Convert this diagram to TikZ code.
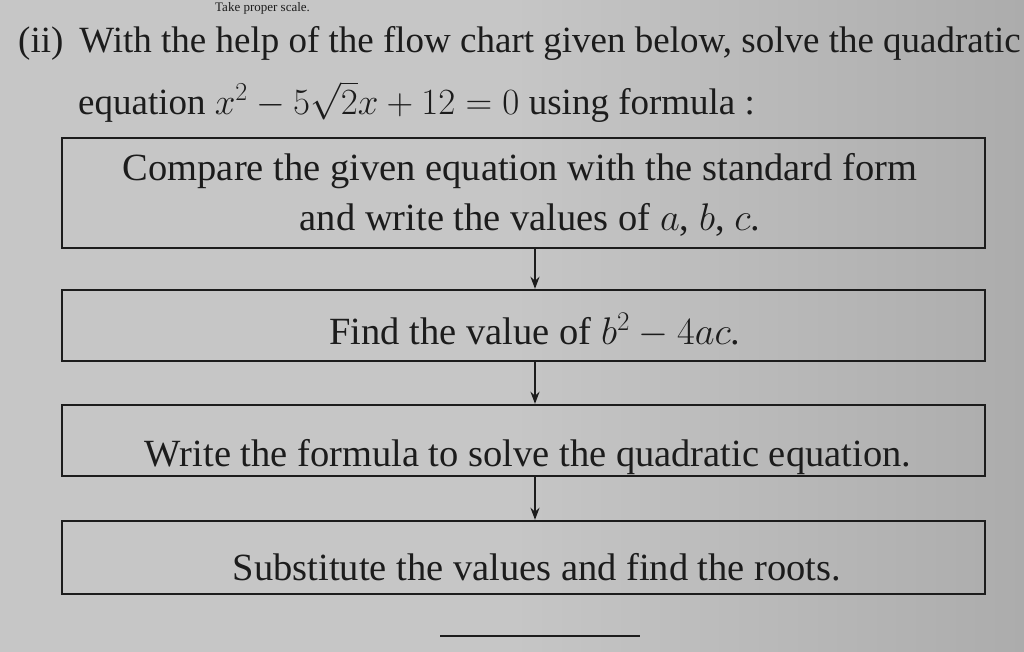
\documentclass[tikz,border=0pt]{standalone}
\usepackage{fix-cm}
\usepackage{fontspec}
\setmainfont{Liberation Serif}
\usetikzlibrary{arrows.meta}
\definecolor{paper}{RGB}{198,198,198}
\definecolor{paperdark}{RGB}{172,172,172}
\definecolor{ink}{RGB}{28,28,28}
\tikzset{
  flowbox/.style={draw=ink, line width=2.4pt, minimum width=923pt, inner sep=0pt},
  boxtext/.style={text=ink, font=\fontsize{38.5}{46}\selectfont, inner sep=0pt, anchor=base},
  headtext/.style={text=ink, font=\fontsize{37}{44}\selectfont, inner sep=0pt, anchor=base west},
  flowarrow/.style={draw=ink, line width=1.8pt, -{Stealth[length=12pt,width=9pt]}},
}
\begin{document}
\begin{tikzpicture}[x=1pt,y=-1pt]
\useasboundingbox (0,0) rectangle (1024,651);
\clip (0,0) rectangle (1024,651);
\shade[left color=paper, right color=paperdark, middle color=paper] (0,0) rectangle (1024,651);
% heading
\node[text=ink, font=\fontsize{13}{15}\selectfont, inner sep=0pt, anchor=base west] (take) at (215,11) {Take proper scale.};
\node[headtext] (q1) at (18,52) {(ii)\hspace{16pt}With the help of the flow chart given below, solve the quadratic};
\node[headtext] (q2) at (78,114) {equation $x^2-5\sqrt{2}x+12=0$ using formula :};
% boxes
\node[flowbox, minimum height=110pt] (b1) at (523.5,193) {};
\node[flowbox, minimum height=71pt] (b2) at (523.5,325.5) {};
\node[flowbox, minimum height=71pt] (b3) at (523.5,440.5) {};
\node[flowbox, minimum height=73pt] (b4) at (523.5,557.5) {};
% texts
\node[boxtext] (t1a) at (520,180) {Compare the given equation with the standard form};
\node[boxtext] (t1b) at (530,230) {and write the values of $a$, $b$, $c$.};
\node[boxtext] (t2) at (535,344) {Find the value of $b^2-4ac$.};
\node[boxtext] (t3) at (528,466) {Write the formula to solve the quadratic equation.};
\node[boxtext] (t4) at (537,580) {Substitute the values and find the roots.};
% arrows
\draw[flowarrow] (b1.south -| 535,0) -- (b2.north -| 535,0);
\draw[flowarrow] (b2.south -| 535,0) -- (b3.north -| 535,0);
\draw[flowarrow] (b3.south -| 535,0) -- (b4.north -| 535,0);
% short line below
\coordinate (s1) at (440,636);
\coordinate (s2) at (640,636);
\draw[draw=ink, line width=2pt] (s1) -- (s2);
\end{tikzpicture}
\end{document}
